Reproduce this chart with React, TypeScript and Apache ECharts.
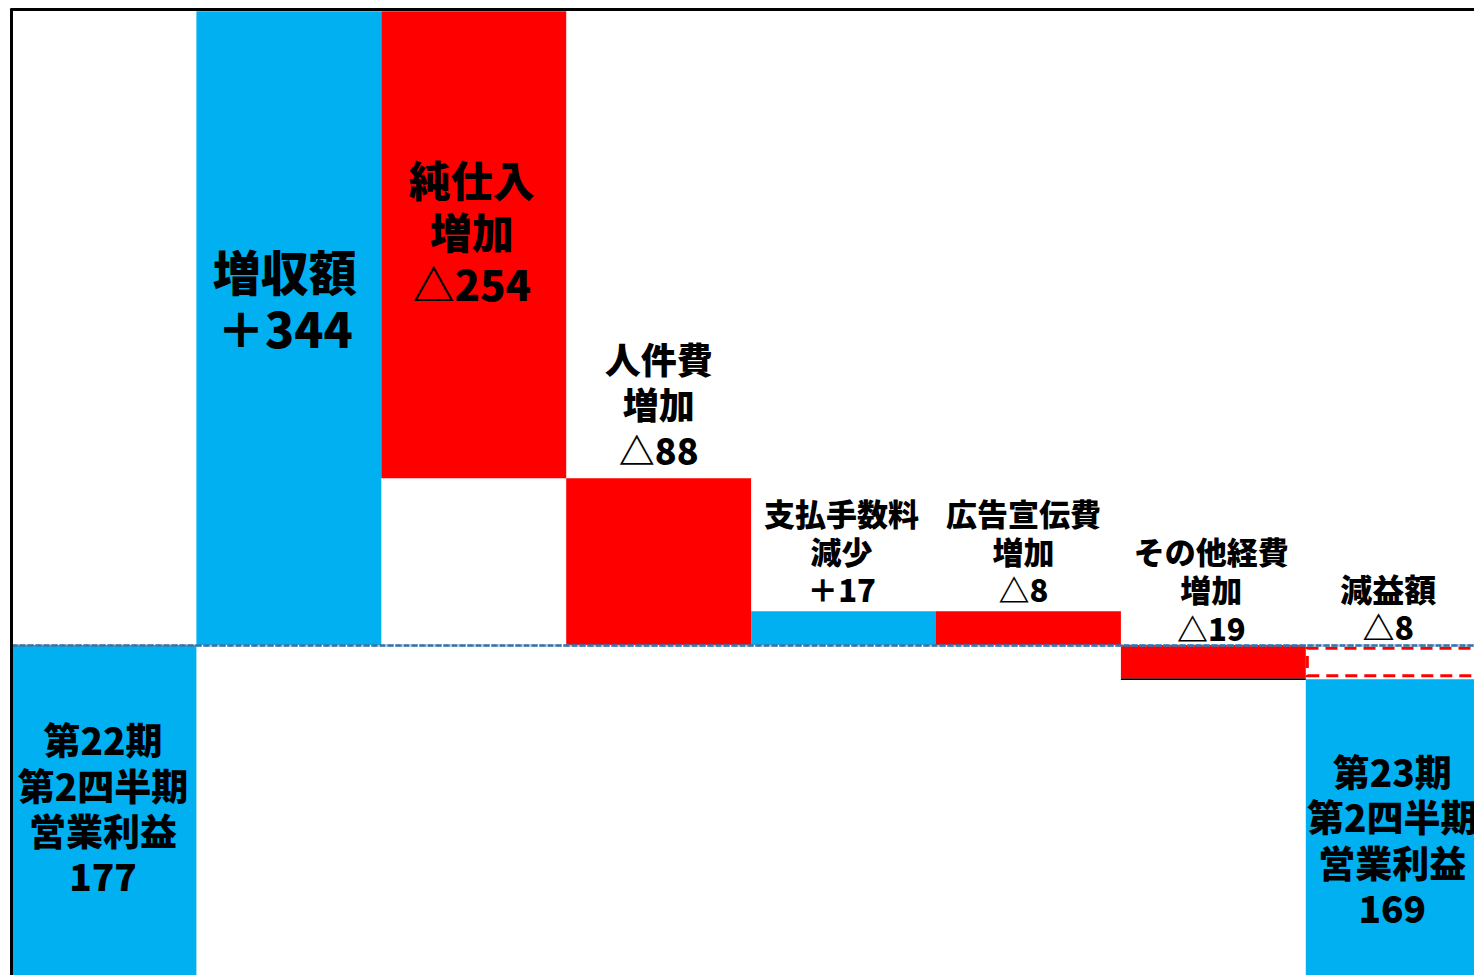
import React, { useEffect, useRef } from 'react';
import * as echarts from 'echarts';

// ---- data (chart units) ----
const categories = [
  '第22期第2四半期営業利益',
  '増収額',
  '純仕入増加',
  '人件費増加',
  '支払手数料減少',
  '広告宣伝費増加',
  'その他経費増加',
  '第23期第2四半期営業利益',
];
const labelNames = [
  '第22期\n第2四半期\n営業利益',
  '増収額',
  '純仕入\n増加',
  '人件費\n増加',
  '支払手数料\n減少',
  '広告宣伝費\n増加',
  'その他経費\n増加',
  '第23期\n第2四半期\n営業利益',
];
const amounts = [177, 344, -254, -88, 17, -8, -19, 169];
const isTotal = [true, false, false, false, false, false, false, true];
// the two total bars run past the bottom edge of the picture
const cropFloor = -3;
const barLow = [cropFloor, 177, 267.5, 177, 177, 177, 159, cropFloor];
const barHigh = [177, 521, 521, 267.5, 195.4, 195.4, 177, 158.5];
// thin black edge under the その他経費 bar
const edgeLow = [null, null, null, null, null, null, 158, null];
const edgeHigh = [null, null, null, null, null, null, 159, null];
// dashed 減益額 box in the last column
const decreaseName = '減益額';
const decreaseAmount = -8;
const decreaseLow = [null, null, null, null, null, null, null, 159.6];
const decreaseHigh = [null, null, null, null, null, null, null, 176.1];
const baselineValue = 177;
const yMin = cropFloor;
const yMax = 522;

// ---- styles ----
const BLUE = '#00B0F0';
const RED = '#FF0000';
const FONT = "'Noto Sans CJK JP', 'Noto Sans', sans-serif";
const WEIGHT = 900;

const labelStyle: any[] = [
  { position: 'inside', fontSize: 37, lineHeight: 45.3, offset: [-1, -3.5] },
  { position: 'inside', fontSize: 48, lineHeight: 57, offset: [-4, -30] },
  { position: 'inside', fontSize: 42, lineHeight: 52, offset: [-2, -14] },
  { position: 'top', fontSize: 36, lineHeight: 45.5, distance: 7, offset: [0, 0] },
  { position: 'top', fontSize: 31, lineHeight: 38, distance: 3.5, offset: [-2, 0] },
  { position: 'top', fontSize: 31, lineHeight: 38, distance: 3.5, offset: [-5, 0] },
  { position: 'top', fontSize: 31, lineHeight: 38.5, distance: -1.5, offset: [-2, 0] },
  { position: 'inside', fontSize: 37, lineHeight: 45.3, offset: [-6, 11] },
];

function fmt(v: number, total: boolean) {
  if (total) return String(v);
  return v > 0 ? '＋' + v : '△' + Math.abs(v);
}

const has = (a: (number | null)[], i: number) => a[i] !== null && a[i] !== undefined;

export default function App() {
  const ref = useRef<HTMLDivElement>(null);
  useEffect(() => {
    const chart = echarts.init(ref.current!, null, { renderer: 'svg' });

    const baseData = categories.map((_, i) => (has(edgeLow, i) ? edgeLow[i] : barLow[i]));
    const edgeData = categories.map((_, i) =>
      has(edgeLow, i) ? +((edgeHigh[i] as number) - (edgeLow[i] as number)).toFixed(3) : 0
    );
    const fillData = categories.map((_, i) => {
      const color = isTotal[i] || amounts[i] > 0 ? BLUE : RED;
      return {
        value: +(barHigh[i] - barLow[i]).toFixed(3),
        itemStyle: { color },
        label: {
          show: true,
          formatter: labelNames[i] + '\n' + fmt(amounts[i], isTotal[i]),
          color: '#000',
          fontFamily: FONT,
          fontWeight: WEIGHT,
          textBorderWidth: 0,
          ...labelStyle[i],
        },
      };
    });
    const gapData = categories.map((_, i) =>
      has(decreaseLow, i) ? +((decreaseLow[i] as number) - barHigh[i]).toFixed(3) : 0
    );
    const dashedData = categories.map((_, i) =>
      has(decreaseLow, i)
        ? {
            value: +((decreaseHigh[i] as number) - (decreaseLow[i] as number)).toFixed(3),
            label: {
              show: true,
              formatter: decreaseName + '\n' + fmt(decreaseAmount, false),
              position: 'top',
              distance: 1.5,
              offset: [-10, 0],
              fontSize: 32,
              lineHeight: 38,
              color: '#000',
              fontFamily: FONT,
              fontWeight: WEIGHT,
            },
          }
        : '-'
    );

    const common = {
      type: 'bar',
      stack: 'waterfall',
      stackStrategy: 'all',
      barCategoryGap: '0%',
      silent: true,
      emphasis: { disabled: true },
    };

    chart.setOption({
      animation: false,
      backgroundColor: '#fff',
      grid: { left: 11.5, right: -16.7, top: 9.5, bottom: -1.7, containLabel: false, outerBoundsMode: 'none' },
      xAxis: {
        type: 'category',
        data: categories,
        position: 'top',
        z: 5,
        axisLine: { show: true, onZero: false, lineStyle: { color: '#000', width: 3 } },
        axisTick: { show: false },
        axisLabel: { show: false },
        splitLine: { show: false },
      },
      yAxis: {
        type: 'value',
        min: yMin,
        max: yMax,
        z: 5,
        axisLine: { show: true, onZero: false, lineStyle: { color: '#000', width: 3 } },
        axisTick: { show: false },
        axisLabel: { show: false },
        splitLine: { show: false },
      },
      series: [
        { ...common, name: 'base', data: baseData, itemStyle: { color: 'rgba(0,0,0,0)' } },
        { ...common, name: 'edge', data: edgeData, itemStyle: { color: '#000' } },
        { ...common, name: 'fill', data: fillData },
        { ...common, name: 'gap', data: gapData, itemStyle: { color: 'rgba(0,0,0,0)' } },
        {
          ...common,
          name: 'decrease',
          data: dashedData,
          itemStyle: { color: '#fff', borderColor: RED, borderWidth: 3, borderType: [12, 7] },
          markLine: {
            silent: true,
            symbol: ['none', 'none'],
            label: { show: false },
            emphasis: { disabled: true },
            data: [
              { yAxis: baselineValue, lineStyle: { color: '#8A8A8A', type: [1, 2], width: 3 } },
              { yAxis: baselineValue, lineStyle: { color: '#2E75B6', type: [6, 2], width: 2.5 } },
            ],
          },
        },
      ],
    });
    return () => chart.dispose();
  }, []);
  return (
    <div
      ref={ref}
      style={{ position: 'fixed', left: 0, top: 0, width: 1474, height: 975, background: '#fff' }}
    />
  );
}
